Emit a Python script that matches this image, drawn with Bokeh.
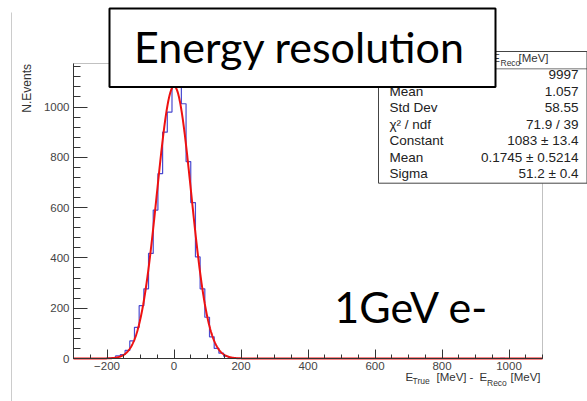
import numpy as np
from bokeh.plotting import figure
from bokeh.models import FixedTicker, Label, BoxAnnotation, Range1d
from bokeh.embed import file_html
from bokeh.resources import INLINE

# ---------------- data ----------------
hist_lo, hist_hi, bin_w = -300, 1100, 14
first_bin_left = -202
counts_core = [1, 3, 11, 16, 32, 70, 124, 210, 277, 418, 590, 735, 900, 980,
               1090, 1117, 1013, 783, 620, 404, 277, 164, 86, 40, 21, 9, 4, 1]
outlier_left = [974]
outlier_counts = [1]

fit_constant, fit_mean, fit_sigma = 1083.0, 0.1745, 51.2

x_major = [-200, 0, 200, 400, 600, 800, 1000]
x_minor = list(range(-300, 1101, 50))
y_major = [0, 200, 400, 600, 800, 1000]
y_minor = list(range(0, 1172, 40))
y_max = 1173

stats_labels = ["Entries", "Mean", "Std Dev", "\u03c7\u00b2 / ndf", "Constant", "Mean", "Sigma"]
stats_values = ["9997", "1.057", "58.55", "71.9 / 39", "1083 \u00b1 13.4",
                "0.1745 \u00b1 0.5214", "51.2 \u00b1 0.4"]

title_text = "Energy resolution"
note_text = "1GeV e-"
ylabel_text = "N.Events"

# ---------------- geometry (canvas px) ----------------
W, H = 587, 401
FL, FR, FT, FB = 73, 542, 63, 358   # ROOT frame box on the canvas

xs = (hist_hi - hist_lo) / (FR - FL)
ys = y_max / (FB - FT)
x_range = Range1d(hist_lo - FL * xs, hist_hi + (W - FR) * xs)
y_range = Range1d(-(H - FB) * ys, y_max + FT * ys)

def sx(px):
    return px

def sy(py):
    return H - py

p = figure(width=W, height=H, output_backend="svg", toolbar_location=None,
           x_range=x_range, y_range=y_range,
           min_border=0, min_border_left=0, min_border_right=0,
           min_border_top=0, min_border_bottom=0)
p.grid.visible = False
p.background_fill_color = "white"
p.border_fill_color = "white"
p.outline_line_color = None

AX = "#333333"
for ax in (p.xaxis[0], p.yaxis[0]):
    ax.axis_line_color = AX
    ax.major_tick_line_color = AX
    ax.minor_tick_line_color = AX
    ax.major_tick_out = 0
    ax.minor_tick_out = 0
    ax.major_label_text_font = "Liberation Sans"
    ax.major_label_text_font_size = "11.5px"
    ax.major_label_text_color = "#444444"

p.xaxis.fixed_location = 0
p.yaxis.fixed_location = hist_lo
p.xaxis.bounds = (hist_lo, hist_hi)
p.yaxis.bounds = (0, y_max)
p.xaxis.ticker = FixedTicker(ticks=x_major, minor_ticks=x_minor)
p.yaxis.ticker = FixedTicker(ticks=y_major, minor_ticks=y_minor)
p.xaxis.major_tick_in = 9
p.xaxis.minor_tick_in = 4
p.yaxis.major_tick_in = 14
p.yaxis.minor_tick_in = 7
p.xaxis.major_label_standoff = 3
p.yaxis.major_label_standoff = 4
p.xaxis.major_label_overrides = {v: ("\u2212" + str(-v) if v < 0 else str(v)) for v in x_major}

# ROOT frame box
p.add_layout(BoxAnnotation(left=hist_lo, right=hist_hi, bottom=0, top=y_max,
                           fill_alpha=0, line_color=AX, line_width=1, level="underlay"))

# ---------------- histogram ----------------
nbins = (hist_hi - hist_lo) // bin_w
edges = hist_lo + bin_w * np.arange(nbins + 1)
counts = np.zeros(nbins)
i0 = (first_bin_left - hist_lo) // bin_w
counts[i0:i0 + len(counts_core)] = counts_core
for lo, c in zip(outlier_left, outlier_counts):
    counts[(lo - hist_lo) // bin_w] = c
p.step(x=edges, y=np.append(counts, counts[-1]), mode="after",
       line_color="#4a4ad0", line_width=1.2)

# ---------------- fit ----------------
xf = np.linspace(hist_lo, hist_hi, 1401)
yf = fit_constant * np.exp(-0.5 * ((xf - fit_mean) / fit_sigma) ** 2)
p.line(xf, yf, line_color="#ee1111", line_width=2)

# ---------------- helpers ----------------
BSHIFT = 0.4  # label anchor -> alphabetic baseline offset (em)

def label(text, x, y, size, font="Liberation Sans", color="#222222", align="left",
          angle=0.0):
    if angle == 0.0:
        y = y - BSHIFT * size
    else:
        x = x - BSHIFT * size
    p.add_layout(Label(x=sx(x), y=sy(y), x_units="screen", y_units="screen", text=text,
                       text_font=font, text_font_size=f"{size}px", text_color=color,
                       text_align=align, text_baseline="alphabetic", angle=angle))

def box(l, r, t, b, fill="white", line="#333333", lw=1.0, fill_alpha=1.0):
    p.add_layout(BoxAnnotation(left=sx(l), right=sx(r), top=sy(t), bottom=sy(b),
                               left_units="screen", right_units="screen",
                               top_units="screen", bottom_units="screen",
                               fill_color=fill, fill_alpha=fill_alpha,
                               line_color=line if line else "white",
                               line_width=lw, line_alpha=1.0 if line else 0.0))

# axis titles
label(ylabel_text, 31, 63.5, 12, color="#333333", align="right", angle=np.pi / 2)
label("E", 405, 381, 11.5, color="#333333")
label("True", 412, 384, 8.5, color="#333333")
label("[MeV]", 436, 381, 11.5, color="#333333")
label("-", 469, 381, 11.5, color="#333333")
label("E", 479, 381, 11.5, color="#333333")
label("Reco", 486.5, 386, 8.5, color="#333333")
label("[MeV]", 510, 381, 11.5, color="#333333")

# canvas edge line
box(10.5, 11.5, 12, 401, fill="#cccccc", line=None)

# stats box
box(378, 586.5, 51, 182.7, fill="white", line="#444444", lw=1)
box(378, 586.5, 68, 68.8, fill="#444444", line=None)
label("E", 499.5, 62, 11.5, color="#333333", align="right")
label("Reco", 500, 66, 8.5, color="#333333")
label("[MeV]", 518, 62, 11.5, color="#333333")
row_y0, row_dy = 79.5, 16.5
for k, (lab, val) in enumerate(zip(stats_labels, stats_values)):
    yy = row_y0 + k * row_dy
    label(lab, 389, yy, 13.5, color="#222222")
    label(val, 578, yy, 13.5, color="#222222", align="right")

# title box
box(109, 495, 8, 86.5, fill="white", line="#000000", lw=2)
label(title_text, 299, 63.5, 43, font="Lato", color="#000000", align="center")

# note
label(note_text, 411, 323.5, 43, font="Lato", color="#000000", align="center")

open("out.html", "w").write(file_html(p, INLINE))
